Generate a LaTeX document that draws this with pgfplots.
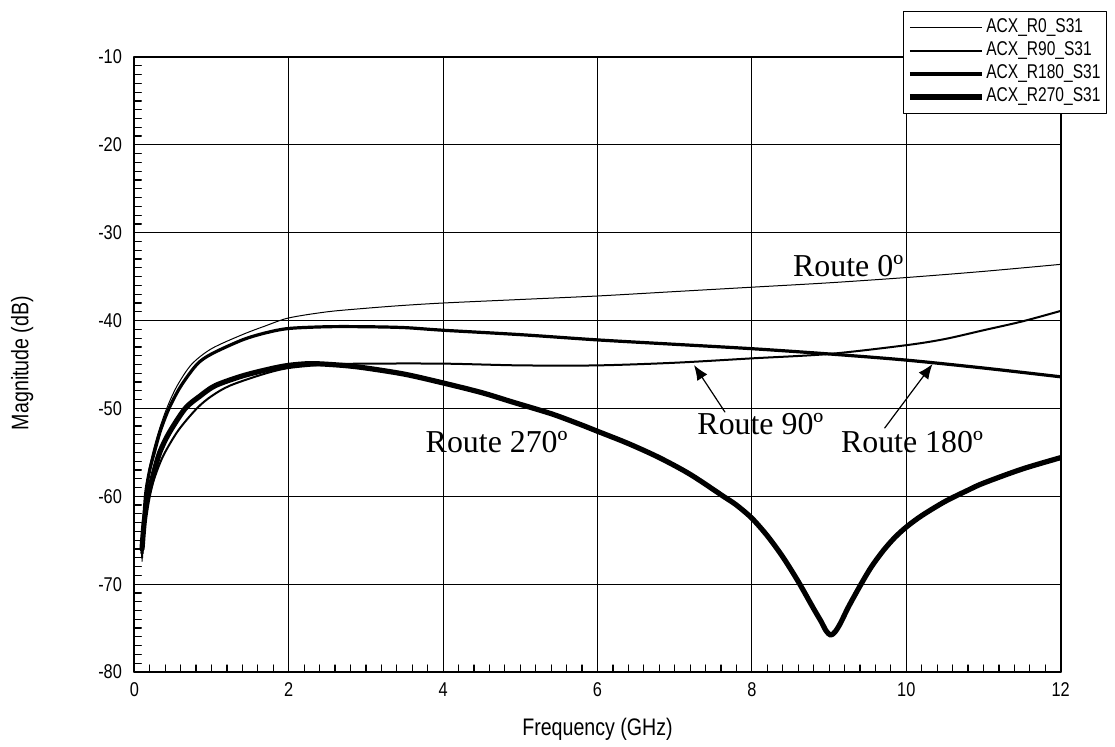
\documentclass[border=0pt]{standalone}
\usepackage{pgfplots}
\pgfplotsset{compat=1.18}
\usepackage{fontspec}
\usetikzlibrary{arrows.meta}
\newfontfamily\adsfont[FakeStretch=0.82]{Liberation Sans}
\newfontfamily\legfont[FakeStretch=0.78]{Liberation Sans}
\newfontfamily\routefont{Liberation Serif}
\begin{document}
\begin{tikzpicture}
\begin{axis}[
  at={(0,0)}, anchor=south west,
  scale only axis, width=463.2bp, height=307.5bp,
  xmin=0, xmax=12, ymin=-80, ymax=-10,
  xtick={0,2,4,6,8,10,12}, xticklabels={0,2,4,6,8,10,12},
  ytick={-80,-70,-60,-50,-40,-30,-20,-10},
  yticklabels={-80,-70,-60,-50,-40,-30,-20,-10},
  minor x tick num=9, minor y tick num=9,
  tick pos=left, tick align=inside,
  major tick length=0pt, minor tick length=3.5bp,
  grid=major, major grid style={black, line width=0.5bp},
  axis line style={black, line width=1bp},
  every tick/.style={black, line width=0.6bp},
  xticklabel style={font=\adsfont\fontsize{10}{12}\selectfont, inner sep=0pt},
  yticklabel style={font=\adsfont\fontsize{10}{12}\selectfont, inner sep=0pt},
  xticklabel shift=5bp, yticklabel shift=6bp,
  legend style={at={(1.050,1.075)}, anchor=north east, draw=black, line width=0.6bp,
    inner xsep=2bp, inner ysep=2.5bp, font=\legfont\fontsize{10}{12}\selectfont,
    nodes={inner sep=1bp, text height=7bp, text depth=2.5bp},
    /tikz/every even column/.append style={column sep=2bp},
    cells={anchor=west}},
  legend image code/.code={\draw[#1] (0bp,0bp) -- (36bp,0bp);},
  line join=round, line cap=round,
]
\addplot[black, line width=0.5bp, smooth] coordinates {
(0.10,-67.4)(0.12,-63.5)(0.14,-60.5)(0.18,-57.5)(0.24,-55)(0.32,-52.5)(0.42,-50)(0.55,-47.5)(0.74,-45)(1.0,-43.2)(1.4,-41.6)(1.7,-40.6)(2.0,-39.7)(2.5,-39.0)(3.0,-38.6)(3.44,-38.3)(4.0,-38.0)(5.0,-37.6)(6.0,-37.2)(7.0,-36.7)(8.0,-36.2)(9.0,-35.7)(10.0,-35.1)(11.0,-34.4)(12.0,-33.6)};
\addlegendentry{ACX\_R0\_S31}
\addplot[black, line width=1bp, smooth] coordinates {
(0.10,-67)(0.13,-63)(0.19,-60.1)(0.27,-57.7)(0.38,-55.3)(0.57,-52.5)(0.81,-50)(1.0,-48.6)(1.24,-47.4)(1.67,-46.1)(2.0,-45.4)(2.5,-45.0)(3.0,-44.9)(4.0,-44.9)(5.0,-45.1)(6.0,-45.1)(7.0,-44.8)(8.0,-44.3)(9.0,-43.8)(10.0,-42.8)(10.5,-42.1)(11.0,-41.1)(11.5,-40.1)(12.0,-38.9)};
\addlegendentry{ACX\_R90\_S31}
\addplot[black, line width=1.6bp, smooth] coordinates {
(0.10,-66.5)(0.12,-63)(0.15,-59.5)(0.2,-57)(0.26,-55)(0.34,-52.5)(0.45,-50)(0.6,-47.5)(0.81,-45)(1.0,-43.8)(1.4,-42.2)(1.7,-41.4)(2.0,-40.9)(2.5,-40.7)(3.0,-40.7)(3.5,-40.8)(4.0,-41.1)(5.0,-41.6)(6.0,-42.2)(7.0,-42.7)(8.0,-43.2)(9.0,-43.8)(10.0,-44.5)(11.0,-45.4)(12.0,-46.4)};
\addlegendentry{ACX\_R180\_S31}
\addplot[black, line width=2.6bp, smooth] coordinates {
(0.10,-66)(0.13,-62.8)(0.18,-60)(0.25,-57.4)(0.33,-55)(0.45,-52.8)(0.66,-50)(0.85,-48.6)(1.05,-47.4)(1.4,-46.3)(1.76,-45.5)(2.0,-45.1)(2.3,-44.9)(2.7,-45.1)(3.0,-45.4)(3.5,-46.1)(4.0,-47.1)(4.5,-48.2)(4.91,-49.3)(5.4,-50.6)(5.77,-51.8)(6.0,-52.6)(6.4,-54)(6.8,-55.6)(7.2,-57.5)(7.63,-60)(7.8,-61.0)(8.0,-62.5)(8.2,-64.5)(8.4,-66.9)(8.6,-69.7)(8.8,-72.8)(8.9,-74.3)(8.96,-75.3)(9.02,-75.8)(9.08,-75.4)(9.15,-74.4)(9.25,-72.6)(9.42,-69.9)(9.55,-68.0)(9.7,-66.2)(9.85,-64.7)(10.0,-63.5)(10.2,-62.2)(10.5,-60.6)(10.8,-59.3)(11.0,-58.5)(11.5,-56.9)(12.0,-55.6)};
\addlegendentry{ACX\_R270\_S31}
\node[anchor=base west, inner sep=0pt, font=\routefont\fontsize{16}{18}\selectfont] at (axis cs:8.53,-34.93) {Route 0º};
\node[anchor=base west, inner sep=0pt, font=\routefont\fontsize{16}{18}\selectfont] at (axis cs:7.29,-53.02) {Route 90º};
\node[anchor=base west, inner sep=0pt, font=\routefont\fontsize{16}{18}\selectfont] at (axis cs:9.15,-54.96) {Route 180º};
\node[anchor=base west, inner sep=0pt, font=\routefont\fontsize{16}{18}\selectfont] at (axis cs:3.77,-54.96) {Route 270º};
\draw[-{Latex[length=7.5bp,width=6bp]}, line width=0.6bp] (axis cs:7.65,-50.4) -- (axis cs:7.25,-45.06);
\draw[-{Latex[length=7.5bp,width=6bp]}, line width=0.6bp] (axis cs:9.72,-52.23) -- (axis cs:10.34,-44.94);
\end{axis}
\node[rotate=90, font=\adsfont\fontsize{12}{14}\selectfont, inner sep=0pt] at (-56bp,154.5bp) {Magnitude (dB)};
\node[anchor=base, font=\adsfont\fontsize{12}{14}\selectfont, inner sep=0pt] at (231.6bp,-31.5bp) {Frequency (GHz)};
\pgfresetboundingbox
\path[use as bounding box] (-67.15bp,-37.5bp) rectangle (490.35bp,336bp);
\end{tikzpicture}
\end{document}
